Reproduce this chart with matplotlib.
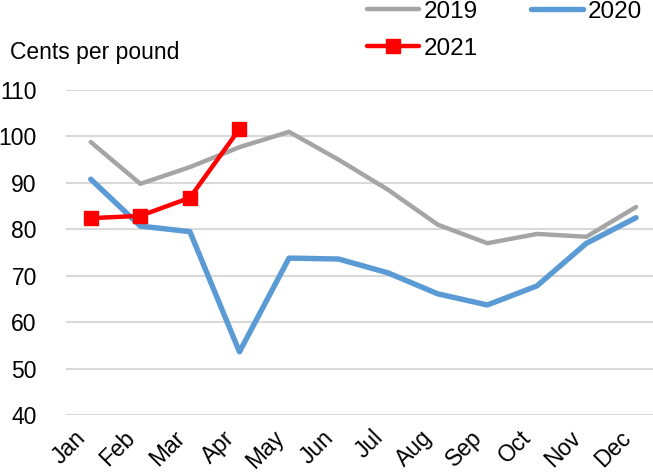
import matplotlib.pyplot as plt
from matplotlib.transforms import ScaledTranslation

plt.rcParams['font.family'] = ['Liberation Sans', 'DejaVu Sans']

months = ['Jan', 'Feb', 'Mar', 'Apr', 'May', 'Jun', 'Jul', 'Aug', 'Sep', 'Oct', 'Nov', 'Dec']
y2019 = [98.8, 89.8, 93.4, 97.7, 101.0, 95.0, 88.5, 81.0, 77.0, 79.0, 78.4, 84.8]
y2020 = [90.8, 80.7, 79.5, 53.6, 73.8, 73.6, 70.6, 66.1, 63.7, 67.8, 77.0, 82.5]
y2021 = [82.4, 82.9, 86.8, 101.6]
yticks = [40, 50, 60, 70, 80, 90, 100, 110]

fig = plt.figure(figsize=(6.53, 4.74), dpi=100)
ax = fig.add_axes([0.101, 0.1245, 0.911, 0.6855])

x = list(range(len(months)))
l19, = ax.plot(x, y2019, color='#a5a5a5', lw=3.2, label='2019', solid_capstyle='round')
l20, = ax.plot(x, y2020, color='#5b9bd5', lw=3.9, label='2020', solid_capstyle='round')
l21, = ax.plot(x[:len(y2021)], y2021, color='#ff0000', lw=3.2, marker='s', ms=10.5,
               label='2021', solid_capstyle='round')

ax.set_xlim(-0.5, 11.5)
ax.set_ylim(40, 110)
ax.set_yticks(yticks)
ax.set_xticks(x)
ax.tick_params(axis='y', labelsize=16.5, length=0, pad=21)
ax.tick_params(axis='x', length=0, pad=8)
ax.set_xticklabels(months, rotation=45, ha='right', rotation_mode='anchor', fontsize=16.5)
# nudge month labels left like the original
shift = ScaledTranslation(-17 / 100, 0, fig.dpi_scale_trans)
for lab in ax.get_xticklabels():
    lab.set_transform(lab.get_transform() + shift)
ax.grid(axis='y', color='#d9d9d9', lw=1.5)
ax.set_axisbelow(True)
for s in ax.spines.values():
    s.set_visible(False)

fig.text(0.015, 0.89, 'Cents per pound', fontsize=16.5, va='center')

fig.legend([l19, l21, l20], ['2019', '2021', '2020'], ncol=2, frameon=False,
           fontsize=17.5, handlelength=2.14, handletextpad=0.2, columnspacing=2.2,
           labelspacing=0.62, loc='upper left', bbox_to_anchor=(0.528, 1.045))

fig.savefig('out.png', dpi=100)
